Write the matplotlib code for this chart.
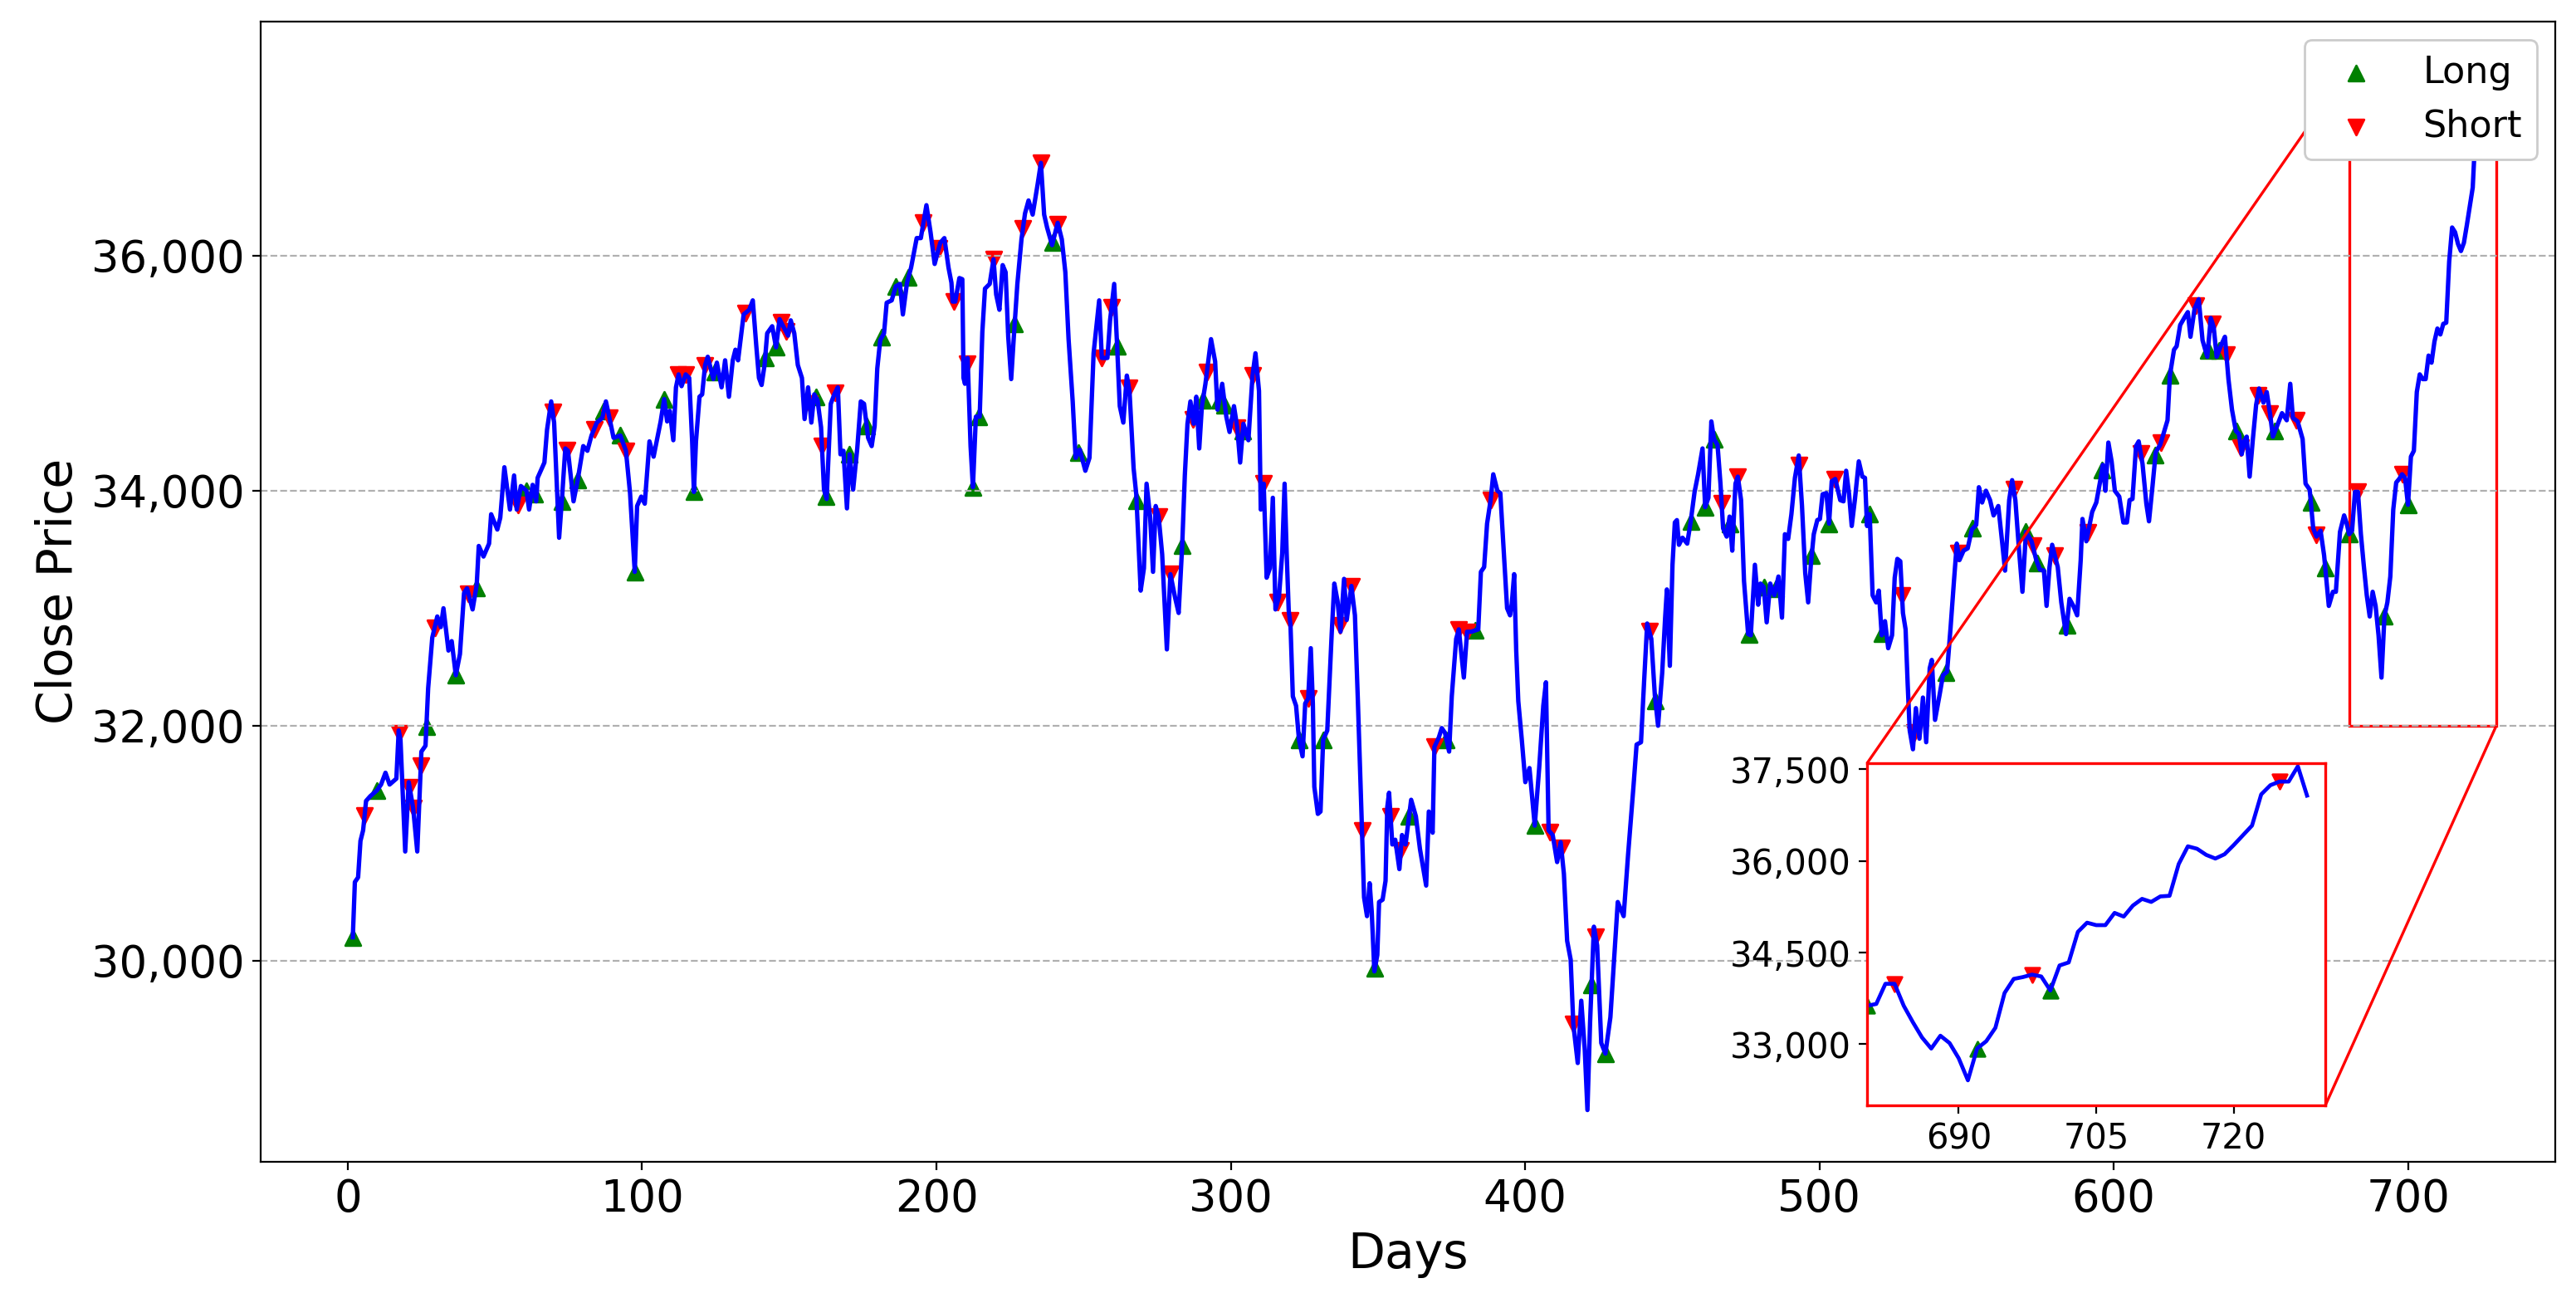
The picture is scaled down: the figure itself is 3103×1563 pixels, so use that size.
import numpy as np
import matplotlib
matplotlib.use("Agg")
import matplotlib.pyplot as plt
from matplotlib.ticker import FuncFormatter
from mpl_toolkits.axes_grid1.inset_locator import mark_inset

# (day, close) readings taken off the reference chart
close_readings = [
    (1.7, 30200), (2.4, 30670), (3.5, 30710), (4.3, 31020), (5.2, 31110), (6.2, 31360), (7.6, 31400),
    (9.9, 31450), (11.3, 31500), (12.8, 31600), (14.2, 31500), (16.5, 31550), (17.3, 31960), (17.9, 31880),
    (19.5, 30930), (20.7, 31520), (22.2, 31300), (23.6, 30930), (25.0, 31780), (26.4, 31830), (27.3, 32320),
    (28.7, 32750), (30.4, 32930), (31.6, 32840), (32.5, 33000), (34.2, 32640), (35.3, 32720), (36.7, 32430),
    (38.1, 32610), (39.5, 33130), (40.5, 33170), (42.4, 32990), (43.8, 33200), (44.5, 33530), (46.1, 33440),
    (48.0, 33550), (48.7, 33800), (50.8, 33670), (51.8, 33770), (53.2, 34200), (55.1, 33840), (56.5, 34130),
    (57.4, 33840), (58.8, 34040), (60.7, 34000), (61.6, 33840), (62.8, 34050), (64.0, 33910), (64.5, 34110),
    (66.8, 34240), (67.7, 34520), (69.1, 34760), (70.1, 34580), (71.8, 33600), (72.9, 33980), (73.9, 34360),
    (74.8, 34340), (76.7, 33910), (78.1, 34090), (80.0, 34380), (81.4, 34340), (82.8, 34470), (84.6, 34580),
    (86.5, 34620), (87.7, 34760), (88.9, 34620), (90.3, 34450), (92.6, 34470), (94.5, 34340), (95.9, 33980),
    (97.5, 33310), (98.3, 33870), (99.7, 33950), (100.9, 33890), (102.5, 34420), (103.9, 34290), (106.3, 34590),
    (107.5, 34780), (108.5, 34590), (109.4, 34680), (110.6, 34430), (111.5, 34880), (112.4, 34990), (113.4, 34890),
    (114.8, 34990), (116.0, 34960), (117.0, 34420), (117.6, 33990), (118.3, 34420), (119.5, 34800), (120.4, 34820),
    (121.4, 35070), (122.3, 35140), (124.2, 34950), (125.4, 35090), (127.0, 34880), (128.2, 35110), (129.5, 34800),
    (130.8, 35110), (131.7, 35200), (132.6, 35110), (134.5, 35500), (136.4, 35540), (137.6, 35620), (138.8, 35230),
    (139.7, 34960), (140.6, 34900), (141.6, 35070), (142.5, 35340), (144.2, 35400), (145.5, 35220), (146.7, 35460),
    (149.6, 35320), (150.5, 35450), (151.7, 35340), (152.9, 35070), (154.3, 34960), (155.2, 34610), (156.4, 34880),
    (157.5, 34580), (158.5, 34820), (159.6, 34770), (160.8, 34540), (161.8, 34010), (162.7, 33930), (164.1, 34740),
    (165.3, 34820), (166.5, 34880), (167.4, 34310), (168.4, 34340), (169.6, 33850), (170.5, 34310), (171.7, 34010),
    (173.1, 34360), (174.3, 34760), (175.4, 34740), (176.8, 34450), (178.0, 34380), (179.0, 34550), (179.9, 35040),
    (180.9, 35280), (182.2, 35340), (183.1, 35600), (184.8, 35620), (186.2, 35740), (187.6, 35760), (188.6, 35500),
    (190.0, 35770), (191.4, 35900), (193.3, 36150), (194.7, 36150), (196.6, 36430), (198.0, 36200), (199.4, 35930),
    (201.3, 36110), (202.7, 36150), (204.1, 35900), (205.1, 35770), (205.5, 35610), (206.4, 35610), (207.8, 35810),
    (208.8, 35800), (209.2, 34960), (209.7, 34910), (210.6, 35130), (211.6, 34380), (212.4, 34030), (213.4, 34630),
    (214.7, 34630), (215.6, 35350), (216.5, 35720), (218.1, 35760), (219.4, 35970), (220.3, 35670), (221.4, 35540),
    (222.5, 35920), (223.5, 35860), (224.4, 35310), (225.4, 34950), (226.3, 35310), (227.5, 35760), (228.9, 36140),
    (230.1, 36360), (231.3, 36470), (232.7, 36350), (234.4, 36610), (235.5, 36790), (236.6, 36350), (237.6, 36240),
    (239.3, 36090), (241.2, 36280), (242.6, 36140), (243.8, 35860), (244.9, 35290), (246.3, 34760), (247.3, 34280),
    (248.7, 34350), (250.6, 34170), (252.0, 34280), (253.4, 35170), (255.3, 35620), (256.2, 35130), (258.1, 35130),
    (259.0, 35450), (260.4, 35760), (261.4, 35230), (262.3, 34720), (263.5, 34580), (264.7, 34980), (265.6, 34850),
    (267.0, 34190), (267.9, 33970), (269.4, 33150), (270.5, 33340), (271.4, 34060), (272.6, 33780), (273.6, 33310),
    (274.5, 33870), (275.5, 33780), (276.7, 33460), (278.3, 32650), (279.5, 33290), (281.1, 33090), (282.3, 32960),
    (283.5, 33530), (284.4, 34130), (285.3, 34570), (286.3, 34760), (287.4, 34570), (288.3, 34800), (289.3, 34360),
    (290.2, 34720), (291.4, 34910), (293.3, 35290), (294.7, 35100), (295.5, 34690), (297.1, 34910), (298.5, 34630),
    (299.6, 34500), (301.1, 34720), (302.2, 34540), (303.2, 34240), (304.3, 34570), (306.0, 34430), (307.4, 34980),
    (308.4, 35170), (309.6, 34850), (310.2, 33840), (311.2, 34060), (312.2, 33260), (313.3, 33340), (314.3, 33940),
    (315.2, 32990), (316.4, 33100), (317.5, 33470), (318.3, 34060), (319.0, 33470), (319.7, 32980), (320.3, 32860),
    (321.1, 32250), (322.2, 32170), (323.2, 31880), (324.4, 31740), (325.3, 32190), (326.3, 32230), (327.2, 32660),
    (327.9, 32190), (328.4, 31480), (329.6, 31250), (330.5, 31270), (331.4, 31880), (332.8, 31960), (334.3, 32780),
    (335.2, 33210), (336.3, 33060), (337.3, 32800), (338.5, 33250), (339.4, 32900), (341.0, 33190), (342.2, 32940),
    (343.2, 32210), (344.4, 31270), (345.3, 30540), (346.3, 30380), (347.2, 30660), (347.9, 30420), (348.8, 29910),
    (349.8, 30050), (350.4, 30500), (351.6, 30520), (352.6, 30680), (353.2, 31310), (353.8, 31430), (354.9, 30990),
    (355.9, 31030), (357.3, 30780), (358.2, 31070), (359.4, 30990), (361.3, 31370), (362.9, 31230), (364.3, 30950),
    (366.4, 30640), (367.3, 31270), (368.6, 31090), (369.2, 31820), (370.7, 31900), (371.7, 31980), (372.8, 31940),
    (374.2, 31780), (375.1, 32250), (376.6, 32740), (377.5, 32820), (379.2, 32410), (380.3, 32800), (381.7, 32800),
    (384.1, 32820), (385.0, 33310), (386.1, 33350), (387.1, 33720), (388.3, 33920), (389.2, 34140), (390.6, 34000),
    (391.6, 33980), (393.0, 33390), (393.9, 33000), (394.9, 32940), (395.5, 33040), (396.3, 33290), (397.0, 32640),
    (397.7, 32210), (398.9, 31880), (400.1, 31520), (401.5, 31640), (402.7, 31310), (403.3, 31150), (404.8, 31640),
    (406.2, 32170), (407.1, 32370), (408.0, 31110), (409.4, 31070), (410.9, 30840), (412.1, 31010), (413.2, 30740),
    (414.3, 30170), (415.5, 30010), (416.4, 29460), (417.9, 29130), (419.1, 29660), (420.3, 29240), (421.2, 28730),
    (422.1, 29480), (423.4, 30290), (424.5, 30130), (425.9, 29300), (427.3, 29210), (429.0, 29520), (431.5, 30500),
    (433.5, 30380), (435.0, 30900), (436.8, 31470), (437.9, 31840), (439.4, 31860), (440.5, 32400), (441.5, 32870),
    (442.9, 32740), (444.1, 32260), (445.2, 32000), (446.6, 32450), (447.6, 32920), (448.2, 33160), (449.2, 32510),
    (450.1, 33370), (450.9, 33730), (451.6, 33750), (452.3, 33540), (453.5, 33600), (455.1, 33550), (456.3, 33740),
    (457.6, 33990), (458.8, 34140), (460.3, 34360), (461.2, 33860), (462.3, 33940), (463.3, 34590), (464.2, 34440),
    (465.4, 34390), (466.4, 34060), (467.3, 33680), (468.5, 33610), (469.5, 33780), (470.4, 33490), (471.5, 34060),
    (472.3, 34120), (473.4, 33920), (474.4, 33230), (475.8, 32780), (476.7, 32770), (478.1, 33370), (479.2, 33030),
    (480.0, 33210), (481.1, 33180), (482.1, 32880), (483.3, 33210), (484.7, 33110), (486.1, 33270), (487.3, 32920),
    (488.3, 33630), (489.4, 33590), (490.5, 33800), (491.7, 34110), (493.0, 34300), (494.1, 33870), (495.2, 33300),
    (496.2, 33050), (497.1, 33370), (498.1, 33630), (499.3, 33750), (500.2, 33760), (501.1, 33970), (502.4, 33980),
    (503.3, 33720), (504.2, 34080), (505.4, 34100), (507.1, 33920), (508.2, 33910), (509.1, 34170), (510.1, 33970),
    (511.0, 33700), (512.1, 33930), (513.4, 34250), (514.6, 34120), (515.5, 34110), (516.2, 33700), (517.1, 33800),
    (518.1, 33110), (519.3, 33050), (520.2, 33150), (521.2, 32770), (522.3, 32890), (523.4, 32660), (524.7, 32770),
    (525.6, 33260), (526.5, 33420), (527.5, 33400), (528.4, 32960), (529.3, 32820), (530.0, 32360), (530.7, 31960),
    (531.8, 31800), (532.8, 32150), (534.0, 31890), (535.2, 32240), (536.3, 31860), (537.5, 32490), (538.2, 32560),
    (539.3, 32050), (540.9, 32270), (542.0, 32430), (543.4, 32460), (544.6, 32840), (545.7, 33220), (546.7, 33550),
    (547.6, 33410), (549.0, 33490), (550.4, 33510), (551.8, 33670), (553.3, 33710), (554.2, 34030), (555.3, 33900),
    (556.6, 34000), (558.0, 33920), (559.2, 33790), (560.8, 33870), (562.2, 33540), (563.1, 33320), (564.5, 33920),
    (565.5, 34090), (566.6, 33920), (567.8, 33510), (569.0, 33140), (570.2, 33650), (572.1, 33570), (573.7, 33410),
    (574.9, 33330), (576.3, 33320), (577.2, 33020), (578.2, 33350), (579.1, 33540), (581.0, 33350), (582.2, 33050),
    (583.8, 32780), (585.0, 33080), (586.3, 33020), (587.6, 32940), (588.8, 33410), (589.4, 33760), (590.7, 33570),
    (592.7, 33820), (594.1, 33900), (595.4, 34080), (596.3, 34220), (597.2, 34000), (598.2, 34410), (599.3, 34250),
    (600.4, 34000), (601.9, 33950), (603.3, 33730), (604.5, 33730), (605.4, 33920), (606.4, 33930), (607.6, 34380),
    (608.5, 34420), (609.8, 34230), (611.1, 33890), (612.0, 33740), (613.2, 34040), (614.3, 34330), (615.8, 34390),
    (617.0, 34490), (618.3, 34600), (619.1, 34980), (620.5, 35200), (621.4, 35230), (622.6, 35410), (624.2, 35480),
    (625.2, 35520), (626.1, 35310), (627.5, 35550), (628.9, 35630), (630.2, 35280), (631.8, 35140), (633.0, 35470),
    (634.0, 35390), (635.0, 35140), (636.7, 35250), (637.8, 35310), (639.0, 34950), (640.2, 34690), (641.5, 34510),
    (642.6, 34480), (643.5, 34310), (644.3, 34420), (645.2, 34460), (646.2, 34120), (647.3, 34440), (648.4, 34730),
    (649.4, 34870), (650.9, 34750), (652.0, 34840), (653.1, 34660), (654.1, 34460), (655.8, 34570), (657.2, 34660),
    (658.8, 34600), (660.0, 34910), (660.9, 34620), (662.5, 34590), (664.2, 34440), (665.2, 34060), (666.6, 34010),
    (667.8, 33680), (668.9, 33610), (670.3, 33660), (671.5, 33450), (673.1, 33020), (674.5, 33140), (675.5, 33140),
    (676.9, 33650), (678.3, 33790), (679.2, 33720),
    (680, 33630), (681, 33660), (682, 33990), (683, 33990), (684, 33630), (685, 33360), (686, 33110),
    (687, 32930), (688, 33140), (689, 33020), (690, 32770), (691, 32410), (692, 32930), (693, 33050),
    (694, 33270), (695, 33840), (696, 34070), (697, 34100), (698, 34140), (699, 34110), (700, 33880),
    (701, 34290), (702, 34340), (703, 34840), (704, 34990), (705, 34950), (706, 34950), (707, 35150),
    (708, 35090), (709, 35270), (710, 35380), (711, 35330), (712, 35420), (713, 35430), (714, 35950),
    (715, 36240), (716, 36200), (717, 36100), (718, 36040), (719, 36110), (720, 36260), (721, 36420),
    (722, 36580), (723, 37090), (724, 37240), (725, 37300), (726, 37300), (727, 37550), (728, 37070),
]

long_days = [1.7, 9.9, 26.7, 36.7, 43.6, 60.7, 63.5, 72.7, 78.1, 87.0, 92.6, 97.5, 107.5, 117.6, 124.7,
             141.8, 145.5, 159.0, 162.5, 170.5, 176.3, 181.5, 186.2, 190.5, 212.4, 214.4, 226.6, 239.5,
             248.2, 261.4, 268.0, 283.5, 290.5, 296.1, 298.0, 304.1, 323.2, 331.4, 349.0, 360.6, 373.3,
             383.1, 403.3, 422.6, 427.3, 444.3, 456.3, 461.2, 464.2, 469.7, 476.2, 481.1, 485.2, 497.4,
             503.3, 517.1, 521.3, 543.1, 552.1, 570.2, 574.1, 584.1, 596.0, 614.2, 619.1, 632.0, 635.8,
             641.6, 654.8, 667.0, 671.9, 680.0, 692.0, 700.0]
short_days = [5.7, 17.5, 21.0, 22.2, 24.8, 29.5, 41.0, 57.7, 69.6, 74.6, 83.7, 88.9, 94.5, 112.4, 114.8,
              121.4, 135.0, 147.2, 148.9, 156.9, 161.1, 165.5, 195.6, 200.8, 205.9, 210.4, 219.4, 229.4,
              235.5, 241.3, 256.2, 259.5, 265.4, 275.5, 279.5, 287.2, 291.9, 302.2, 307.4, 311.2, 315.9,
              320.1, 326.3, 337.1, 341.0, 344.6, 354.3, 357.8, 369.2, 377.5, 380.3, 388.3, 408.5, 412.3,
              416.4, 424.0, 442.2, 466.8, 472.3, 493.2, 505.2, 528.1, 532.2, 547.2, 566.0, 572.5, 580.0,
              591.3, 609.2, 616.0, 628.0, 633.6, 638.3, 643.2, 649.0, 653.1, 661.9, 668.7, 683.0, 698.0,
              725.0]

y_ticks_main = [30000, 32000, 34000, 36000]
x_ticks_main = [0, 100, 200, 300, 400, 500, 600, 700]
y_ticks_inset = [33000, 34500, 36000, 37500]
x_ticks_inset = [690, 705, 720]

day = np.array([d for d, _ in close_readings])
close = np.array([c for _, c in close_readings])
long_px = np.interp(long_days, day, close)     # trade markers sit on the close line
short_px = np.interp(short_days, day, close)

comma = FuncFormatter(lambda v, p: f"{v:,.0f}")

fig = plt.figure(figsize=(15.515, 7.815), dpi=200)
ax_box = [0.1012, 0.1049, 0.8907, 0.8787]
ax = fig.add_axes(ax_box)

h_long = ax.scatter(long_days, long_px, marker="^", color="green", s=45, label="Long")
h_short = ax.scatter(short_days, short_px, marker="v", color="red", s=45, label="Short")
ax.plot(day, close, color="blue", lw=1.9)

ax.set_xlim(-29.6, 750)
ax.set_ylim(28289, 37995)
ax.set_xticks(x_ticks_main)
ax.set_yticks(y_ticks_main)
ax.yaxis.set_major_formatter(comma)
ax.tick_params(labelsize=19)
ax.grid(axis="y", linestyle="--", color="#b0b0b0", lw=0.8)
ax.set_xlabel("Days", fontsize=21)
ax.set_ylabel("Close Price", fontsize=21)

# zoomed view of the last fifty days
axins = fig.add_axes([0.7248, 0.1484, 0.1779, 0.2636])
axins.scatter(long_days, long_px, marker="^", color="green", s=40)
axins.scatter(short_days, short_px, marker="v", color="red", s=40)
axins.plot(day, close, color="blue", lw=1.7)
axins.set_xlim(680, 730)
axins.set_ylim(32000, 37600)
axins.set_xticks(x_ticks_inset)
axins.set_yticks(y_ticks_inset)
axins.yaxis.set_major_formatter(comma)
axins.tick_params(labelsize=15)
for sp in axins.spines.values():
    sp.set_edgecolor("red")
    sp.set_linewidth(1.2)
mark_inset(ax, axins, loc1=2, loc2=4, fc="none", ec="red", lw=1.2)

# figure-level legend so it sits above the inset connector lines
fig.legend(handles=[h_long, h_short], loc="upper right", fontsize=16, framealpha=1,
           bbox_to_anchor=(ax_box[0] + ax_box[2], ax_box[1] + ax_box[3]), borderaxespad=0.5)

fig.savefig("out.png", dpi=200)
